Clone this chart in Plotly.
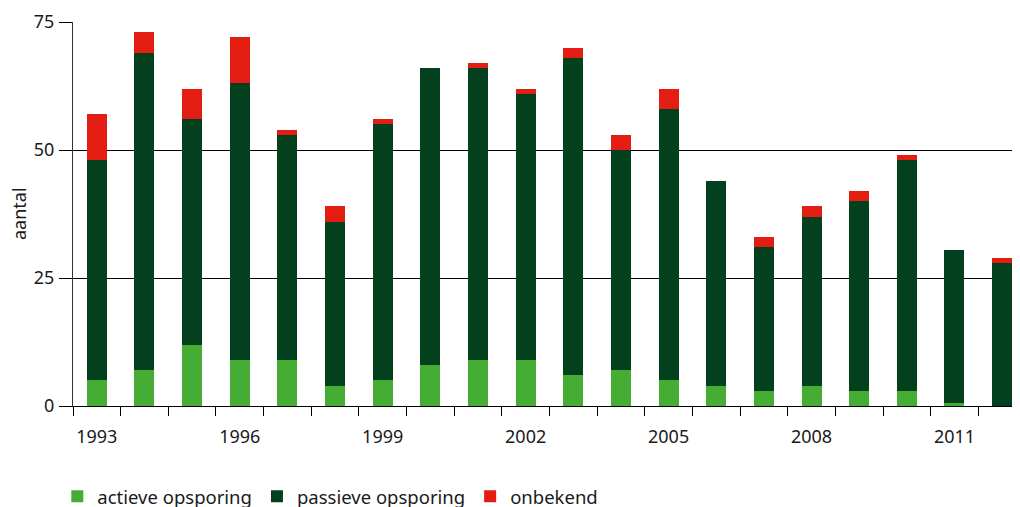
import plotly.graph_objects as go

years = list(range(1993, 2013))
actieve = [5, 7, 12, 9, 9, 4, 5, 8, 9, 9, 6, 7, 5, 4, 3, 4, 3, 3, 0.5, 0]
passieve = [43, 62, 44, 54, 44, 32, 50, 58, 57, 52, 62, 43, 53, 40, 28, 33, 37, 45, 30, 28]
onbekend = [9, 4, 6, 9, 1, 3, 1, 0, 1, 1, 2, 3, 4, 0, 2, 2, 2, 1, 0, 1]

tick_years = [1993, 1996, 1999, 2002, 2005, 2008, 2011]
y_ticks = [0, 25, 50, 75]

c_act = "#45ad34"
c_pas = "#02401e"
c_onb = "#e31d12"
font_family = "Noto Sans, Open Sans, sans-serif"

fig = go.Figure()
for name, vals, col in [("actieve opsporing", actieve, c_act),
                        ("passieve opsporing", passieve, c_pas),
                        ("onbekend", onbekend, c_onb)]:
    fig.add_trace(go.Bar(x=years, y=vals, name=name, marker_color=col,
                         marker_line_width=0, width=0.42))

fig.update_layout(
    barmode="stack",
    width=1020, height=507,
    margin=dict(l=65, r=3, t=14, b=109, autoexpand=False),
    paper_bgcolor="white", plot_bgcolor="white",
    font=dict(family=font_family, size=18, color="#1a1a1a"),
    showlegend=True,
    legend=dict(orientation="h", x=-0.0165, xanchor="left", y=-0.187, yanchor="top",
                font=dict(size=18.5), traceorder="normal", itemwidth=30),
    xaxis=dict(range=[1992.5, 2012.48], tickvals=tick_years,
               ticktext=[str(t) for t in tick_years], ticks="",
               showgrid=False, zeroline=False, showline=True, automargin=False,
               linecolor="black", linewidth=1, ticklabelstandoff=14,
               minor=dict(tick0=1992.5, dtick=1, ticks="outside", ticklen=9,
                          tickcolor="black", tickwidth=1, showgrid=False)),
    yaxis=dict(range=[0, 75], tickvals=y_ticks, ticks="outside", ticklen=13,
               tickcolor="black", tickwidth=1, showgrid=True, gridcolor="black",
               gridwidth=1, zeroline=False, showline=True, linecolor="#333333",
               linewidth=1, automargin=False, ticklabelstandoff=1),
    annotations=[dict(text="aantal", textangle=-90, x=0, xref="paper", y=0.5,
                      yref="paper", xanchor="center", yanchor="middle",
                      xshift=-54, showarrow=False, font=dict(size=18))],
)

fig.write_html("out.html")
